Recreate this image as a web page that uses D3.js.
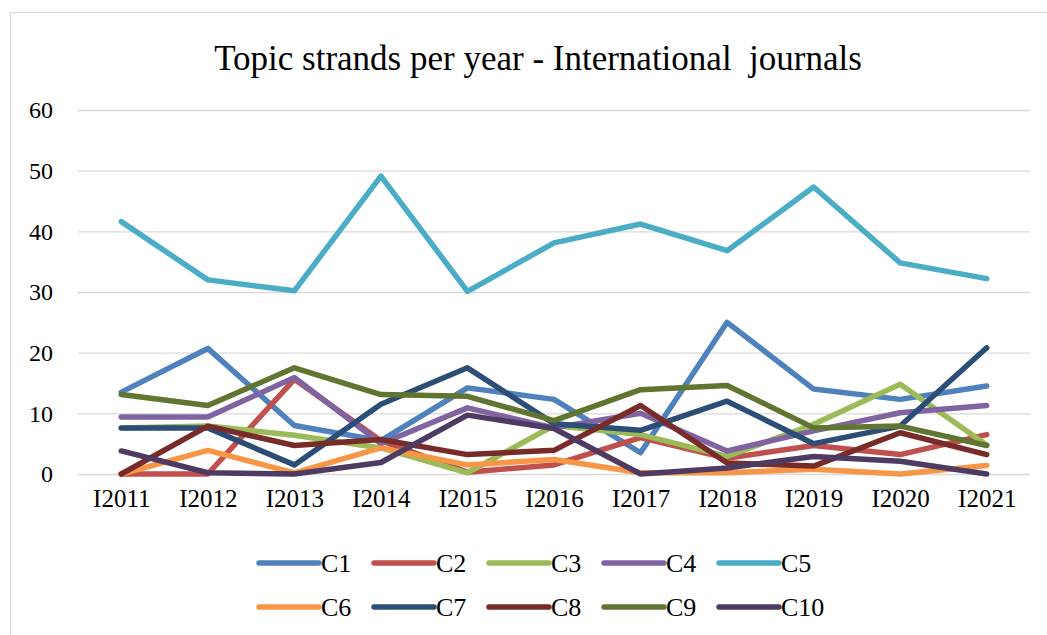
<!DOCTYPE html>
<html>
<head>
<meta charset="utf-8">
<script src="https://cdn.jsdelivr.net/npm/d3@7/dist/d3.min.js"></script>
<style>
  html, body { margin: 0; padding: 0; background: #ffffff; }
  svg { display: block; }
  text { font-family: "Liberation Serif", "Times New Roman", serif; fill: #000; }
</style>
</head>
<body>
<svg id="chart" width="1047" height="635"></svg>
<script>
// Categories and tick labels
const years = ["I2011", "I2012", "I2013", "I2014", "I2015", "I2016", "I2017", "I2018", "I2019", "I2020", "I2021"];
const yTicks = [0, 10, 20, 30, 40, 50, 60];
const seriesNames = ["C1", "C2", "C3", "C4", "C5", "C6", "C7", "C8", "C9", "C10"];

// Number of topic strands per year, one array per series
const C1  = [13.5, 20.7, 8.0, 5.5, 14.2, 12.3, 3.5, 25.0, 14.0, 12.3, 14.5];
const C2  = [0, 0, 15.6, 5.5, 0.3, 1.5, 6.0, 2.6, 4.7, 3.2, 6.5];
const C3  = [7.6, 7.9, 6.4, 4.3, 0.2, 8.0, 6.5, 2.9, 8.2, 14.8, 4.8];
const C4  = [9.4, 9.4, 15.9, 5.0, 10.9, 7.6, 10.0, 3.8, 7.1, 10.1, 11.3];
const C5  = [41.6, 32.0, 30.2, 49.1, 30.1, 38.1, 41.2, 36.8, 47.3, 34.8, 32.2];
const C6  = [0, 3.9, 0.2, 4.3, 1.5, 2.4, 0.2, 0.2, 0.8, 0, 1.4];
const C7  = [7.6, 7.6, 1.5, 11.5, 17.5, 8.3, 7.2, 12.0, 5.0, 7.9, 20.8];
const C8  = [0, 7.9, 4.7, 5.7, 3.2, 3.9, 11.3, 1.8, 1.3, 6.8, 3.2];
const C9  = [13.1, 11.3, 17.5, 13.1, 12.8, 8.8, 13.9, 14.6, 7.6, 7.9, 4.7];
const C10 = [3.8, 0.2, 0, 1.9, 9.7, 7.5, 0, 1.0, 2.9, 2.1, 0];

const seriesValues = [C1, C2, C3, C4, C5, C6, C7, C8, C9, C10];
const colors = ["#4F81BD", "#C0504D", "#9BBB59", "#8064A2", "#4BACC6",
                "#F79646", "#2C4D75", "#772C2A", "#5F7530", "#4D3B62"];

const svg = d3.select("#chart");

// Outer chart frame
svg.append("rect")
  .attr("x", 10.5).attr("y", 12.5)
  .attr("width", 1040).attr("height", 630)
  .attr("fill", "#fff")
  .attr("stroke", "#d9d9d9");

// Title
svg.append("text")
  .attr("x", 538).attr("y", 70)
  .attr("text-anchor", "middle")
  .attr("xml:space", "preserve")
  .style("font-size", "35px")
  .style("white-space", "pre")
  .text("Topic strands per year - International  journals");

const plotLeft = 78, plotRight = 1030;
const x = d3.scalePoint().domain(years).range([plotLeft, plotRight]).padding(0.5);
const y = d3.scaleLinear().domain([0, 60]).range([474, 110]);

// Horizontal gridlines and y tick labels
const yAxis = svg.append("g")
  .attr("transform", `translate(${plotLeft},0)`)
  .call(d3.axisLeft(y).tickValues(yTicks).tickSize(-(plotRight - plotLeft)).tickPadding(25));
yAxis.select(".domain").remove();
yAxis.selectAll(".tick line").attr("stroke", "#d9d9d9").attr("stroke-width", 1.3);
yAxis.selectAll(".tick text")
  .style("font-size", "24px")
  .style("font-family", "'Liberation Serif', serif")
  .attr("fill", "#000");

// Category labels
const xAxis = svg.append("g")
  .attr("transform", "translate(0,474)")
  .call(d3.axisBottom(x).tickSize(0).tickPadding(15));
xAxis.select(".domain").remove();
xAxis.selectAll(".tick text")
  .style("font-size", "25px")
  .style("font-family", "'Liberation Serif', serif")
  .attr("fill", "#000");

// Series lines
const line = d3.line()
  .x((d, i) => x(years[i]))
  .y(d => y(d));

svg.append("g")
  .selectAll("path")
  .data(seriesValues)
  .join("path")
  .attr("d", d => line(d))
  .attr("fill", "none")
  .attr("stroke", (d, i) => colors[i])
  .attr("stroke-width", 5.5)
  .attr("stroke-linejoin", "round")
  .attr("stroke-linecap", "round");

// Legend: two rows of five
const legend = svg.append("g");
const items = legend.selectAll("g")
  .data(seriesNames)
  .join("g")
  .attr("transform", (d, i) => `translate(${259 + (i % 5) * 115},${i < 5 ? 563 : 607})`);
items.append("line")
  .attr("x1", 0).attr("x2", 60)
  .attr("y1", 0).attr("y2", 0)
  .attr("stroke", (d, i) => colors[i])
  .attr("stroke-width", 5.5)
  .attr("stroke-linecap", "round");
items.append("text")
  .attr("x", 62).attr("y", 0)
  .attr("dy", "0.35em")
  .style("font-size", "26px")
  .text(d => d);
</script>
</body>
</html>
